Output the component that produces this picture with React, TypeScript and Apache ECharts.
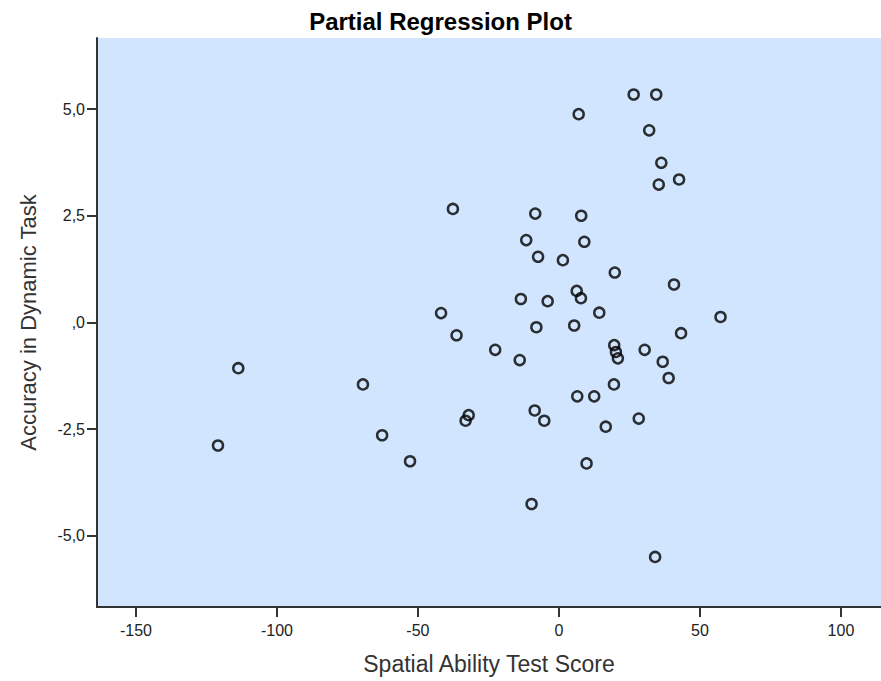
import React, { useEffect, useRef } from "react";
import * as echarts from "echarts";

const titleText = "Partial Regression Plot";
const xName = "Spatial Ability Test Score";
const yName = "Accuracy in Dynamic Task";

const xTicks = [-150, -100, -50, 0, 50, 100];
const yTicks = [-5, -2.5, 0, 2.5, 5];

const xValues = [
  26.5, 34.5, 7.0, 32.0, 36.3, 42.6, 35.4, -37.6, -8.4, 7.9,
  -11.6, 9.0, -7.4, 1.4, 19.8, 40.8, -13.5, -4.0, 6.3, 7.8,
  14.3, -41.8, 57.3, -8.0, 5.4, 43.3, -22.6, -13.9, 19.6, 20.2,
  20.9, 30.4, 36.8, 38.9, 19.5, 6.5, 12.5, -8.6, -5.2, 28.3,
  16.6, 9.8, -36.3, -113.7, -69.5, -32.0, -33.1, -120.9, -62.7, -52.8,
  -9.7, 34.1,
];
const yValues = [
  5.34, 5.34, 4.88, 4.5, 3.74, 3.35, 3.23, 2.66, 2.55, 2.5,
  1.93, 1.89, 1.54, 1.46, 1.17, 0.89, 0.55, 0.5, 0.74, 0.57,
  0.23, 0.22, 0.13, -0.11, -0.07, -0.25, -0.64, -0.88, -0.53, -0.69,
  -0.84, -0.64, -0.92, -1.3, -1.45, -1.73, -1.73, -2.06, -2.3, -2.25,
  -2.44, -3.3, -0.3, -1.07, -1.45, -2.17, -2.3, -2.88, -2.64, -3.25,
  -4.25, -5.49,
];

const X_MIN = -163.8;
const X_MAX = 114.2;
const Y_MIN = -6.663;
const Y_MAX = 6.663;

const fmtY = (v: number) => {
  if (Math.abs(v) < 1e-9) return ",0";
  return v.toFixed(1).replace(".", ",");
};

export default function App() {
  const ref = useRef<HTMLDivElement>(null);
  useEffect(() => {
    if (!ref.current) return;
    const chart = echarts.init(ref.current, undefined, { renderer: "svg" });
    const font = "'Liberation Sans', Arial, sans-serif";
    const axisColor = "#333";
    chart.setOption({
      animation: false,
      backgroundColor: "#ffffff",
      title: {
        text: titleText,
        left: "center",
        top: 4,
        textStyle: { fontFamily: font, fontSize: 24, fontWeight: "bold", color: "#000" },
      },
      grid: {
        left: 97,
        right: 0,
        top: 38,
        bottom: 74,
        show: true,
        backgroundColor: "#D1E6FE",
        borderWidth: 0,
      },
      xAxis: {
        type: "value",
        min: X_MIN,
        max: X_MAX,
        name: xName,
        nameLocation: "middle",
        nameGap: 45,
        nameTextStyle: { fontFamily: font, fontSize: 23, color: "#333" },
        axisLine: { show: true, onZero: false, lineStyle: { color: axisColor, width: 2 } },
        axisTick: { show: true, length: 10, customValues: xTicks, lineStyle: { color: axisColor, width: 2 } },
        axisLabel: {
          customValues: xTicks,
          margin: 15,
          fontFamily: font,
          fontSize: 16,
          color: "#222",
        },
        splitLine: { show: false },
      },
      yAxis: {
        type: "value",
        min: Y_MIN,
        max: Y_MAX,
        name: yName,
        nameLocation: "middle",
        nameGap: 58,
        nameTextStyle: { fontFamily: font, fontSize: 22, color: "#333" },
        axisLine: { show: true, onZero: false, lineStyle: { color: axisColor, width: 2 } },
        axisTick: { show: true, length: 10, customValues: yTicks, lineStyle: { color: axisColor, width: 2 } },
        axisLabel: {
          customValues: yTicks,
          margin: 12,
          fontFamily: font,
          fontSize: 16,
          color: "#222",
          formatter: (v: number) => fmtY(v),
        },
        splitLine: { show: false },
      },
      series: [
        {
          type: "scatter",
          data: xValues.map((x, i) => [x, yValues[i]]),
          symbol: "circle",
          symbolSize: 10,
          itemStyle: { color: "rgba(0,0,0,0)", borderColor: "#000", borderWidth: 2.5 },
        },
      ],
    });
    return () => chart.dispose();
  }, []);
  return (
    <div
      ref={ref}
      style={{ position: "fixed", left: 0, top: 0, width: 881, height: 681 }}
    />
  );
}
